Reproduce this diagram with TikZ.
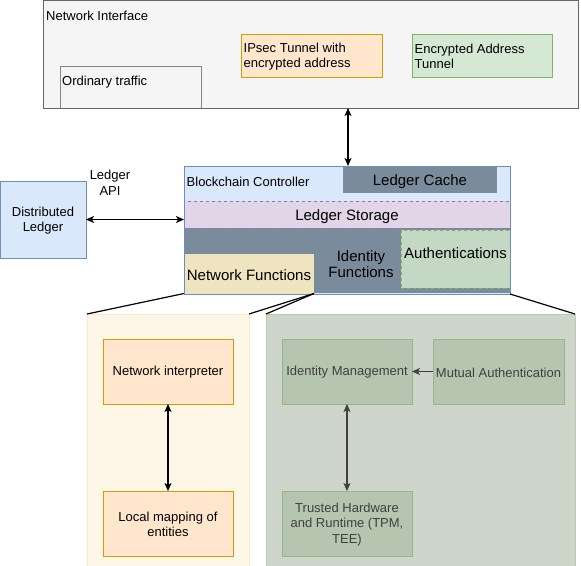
\documentclass[tikz,border=0pt]{standalone}
\usepackage{fontspec}
\setmainfont{Liberation Sans}
\usepackage{xcolor}
\usetikzlibrary{arrows.meta}

\definecolor{niFill}{HTML}{F5F5F5}
\definecolor{niLine}{HTML}{666666}
\definecolor{orFill}{HTML}{FFE6CC}
\definecolor{orLine}{HTML}{D79B00}
\definecolor{grFill}{HTML}{D5E8D4}
\definecolor{grLine}{HTML}{82B366}
\definecolor{blFill}{HTML}{DAE8FC}
\definecolor{blLine}{HTML}{6C8EBF}
\definecolor{puFill}{HTML}{E1D5E7}
\definecolor{puLine}{HTML}{9673A6}
\definecolor{slate}{HTML}{7A8B9C}
\definecolor{nfFill}{HTML}{EFE4C0}
\definecolor{auFill}{HTML}{C5D8C4}
\definecolor{lpFill}{HTML}{FEF7E8}
\definecolor{lpLine}{HTML}{F6EAC4}
\definecolor{rpFill}{HTML}{CED6CC}
\definecolor{rpLine}{HTML}{B9CCB2}
\definecolor{imFill}{HTML}{B5C5B0}
\definecolor{imLine}{HTML}{97B48A}

\tikzset{
  box/.style={draw, line width=1pt, inner sep=0pt, outer sep=0pt, anchor=north west},
  txt/.style={font=\fontsize{13}{15.5}\selectfont, inner sep=0pt, align=center, yshift=-1pt},
  bigtxt/.style={font=\fontsize{15}{16.5}\selectfont, inner sep=0pt, align=center, yshift=-2pt},
  link/.style={line width=1.1pt, {Stealth[length=8pt,width=7pt,inset=2pt]}-{Stealth[length=8pt,width=7pt,inset=2pt]}},
}

\begin{document}
\begin{tikzpicture}[x=1pt,y=-1pt]
  \useasboundingbox (0,0) rectangle (581,565);

  % Network interface
  \node[box, fill=niFill, draw=niLine, minimum width=535pt, minimum height=108pt] (netif) at (43,0) {};
  \node[txt, anchor=west] (netiflbl) at (46,15) {Network Interface};
  \draw[line width=1pt, draw=niLine!80] (60,108) |- (201,66) -- (201,108);
  \node[txt, anchor=west] (ordinary) at (62,81) {Ordinary traffic};
  \node[box, fill=orFill, draw=orLine, minimum width=141pt, minimum height=43pt] (ipsec) at (241,34) {};
  \node[txt, anchor=west, align=left] at (243.5,55.5) {IPsec Tunnel with\\encrypted address};
  \node[box, fill=grFill, draw=grLine, minimum width=140pt, minimum height=43pt] (enctun) at (412,34) {};
  \node[txt, anchor=west, align=left] at (414.5,55.5) {Encrypted Address\\Tunnel};

  % Blockchain controller
  \node[box, fill=blFill, draw=blLine, minimum width=326pt, minimum height=128pt] (bc) at (184,166) {};
  \node[txt, anchor=west] (bclbl) at (186.5,181) {Blockchain Controller};
  \fill[slate] (184,228) rectangle (510,293);
  \node[box, fill=slate, draw=none, minimum width=154pt, minimum height=27pt] (cache) at (343,166) {};
  \node[bigtxt] at (cache.center) {Ledger Cache};
  \node[box, fill=puFill, draw=puLine, dashed, line width=0.6pt, minimum width=326pt, minimum height=27pt] (storage) at (184,201) {};
  \node[bigtxt] at (storage.center) {Ledger Storage};
  \node[box, fill=nfFill, draw=none, minimum width=130pt, minimum height=40pt] (netfn) at (184,253.5) {};
  \node[bigtxt] at (netfn.center) {Network Functions};
  \node[box, fill=auFill, draw=grLine, dashed, line width=0.6pt, minimum width=109pt, minimum height=58pt] (auth) at (401,230) {};
  \node[bigtxt] at (455.5,251) {Authentications};
  \node[bigtxt] (idfn) at (361,262) {Identity\\Functions};
  \node[box, draw=blLine, minimum width=326pt, minimum height=128pt] (bcframe) at (184,166) {};

  % Distributed ledger
  \node[box, fill=blFill, draw=blLine, minimum width=86pt, minimum height=77pt] (dl) at (0,181) {};
  \node[txt] at (dl.center) {Distributed\\Ledger};
  \node[txt] (api) at (110,182) {Ledger\\API};
  \draw[link] (dl.east) -- (storage.west |- dl.east);
  \draw[link] (netif.south -| 348,0) -- (bc.north -| 348,0);

  % Lower panels
  \node[box, fill=lpFill, draw=lpLine, minimum width=162pt, minimum height=252pt] (leftp) at (87,314) {};
  \node[box, fill=rpFill, draw=rpLine, minimum width=309pt, minimum height=252pt] (rightp) at (266,314) {};
  \draw[line width=1.2pt] (netfn.south west) -- (leftp.north west);
  \draw[line width=1.2pt] (netfn.south east) -- (leftp.north east);
  \draw[line width=1.2pt] (netfn.south east) -- (rightp.north west);
  \draw[line width=1.2pt] (bc.south east) -- (rightp.north east);

  % Network functions detail
  \node[box, fill=orFill, draw=orLine, minimum width=130pt, minimum height=65pt] (interp) at (103,339) {};
  \node[txt] at (interp.center) {Network interpreter};
  \node[box, fill=orFill, draw=orLine, minimum width=130pt, minimum height=65pt] (localmap) at (103,491) {};
  \node[txt] at (localmap.center) {Local mapping of\\entities};
  \draw[link] (interp.south) -- (localmap.north);

  % Identity functions detail
  \node[box, fill=imFill, draw=imLine, minimum width=130pt, minimum height=65pt] (idman) at (282,339) {};
  \node[txt, text=black!75] at (idman.center) {Identity Management};
  \node[box, fill=imFill, draw=imLine, minimum width=131pt, minimum height=65pt] (mutual) at (433,339) {};
  \node[txt, text=black!75] at (mutual.center) {Mutual Authentication};
  \node[box, fill=imFill, draw=imLine, minimum width=130pt, minimum height=65pt] (trusted) at (282,491) {};
  \node[txt, text=black!75] at (trusted.center) {Trusted Hardware\\and Runtime (TPM,\\TEE)};
  \draw[link, black!75] (idman.south) -- (trusted.north);
  \draw[line width=1.1pt, black!75, -{Stealth[length=8pt,width=7pt,inset=2pt]}] (mutual.west) -- (idman.east);
\end{tikzpicture}
\end{document}
